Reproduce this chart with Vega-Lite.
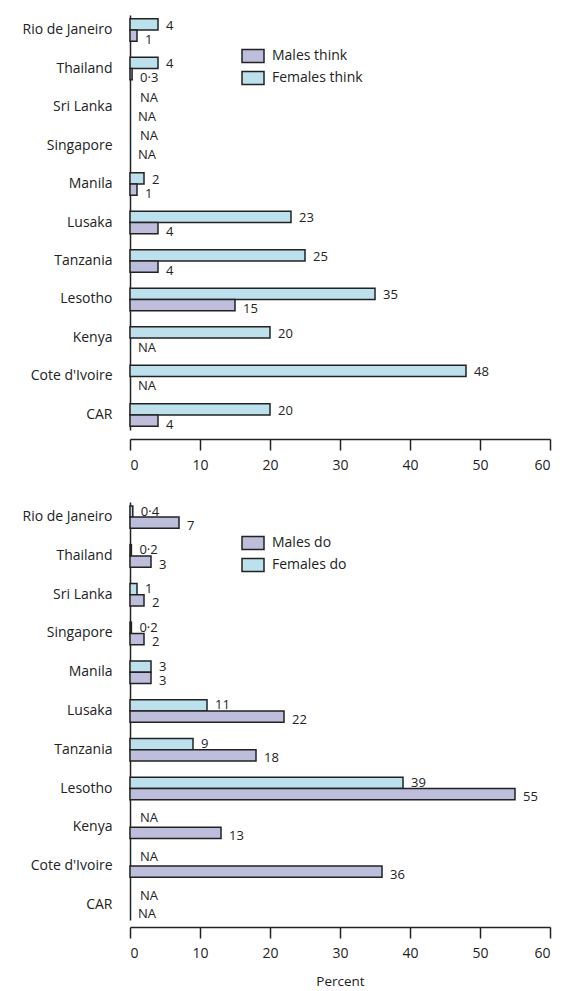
{
  "$schema": "https://vega.github.io/schema/vega-lite/v6.json",
  "padding": {"left": 20, "top": 15, "right": 5, "bottom": 0},
  "background": "white",
  "config": {
    "font": "Open Sans",
    "view": {"stroke": null},
    "axis": {
      "labelFont": "Open Sans", "labelFontSize": 14, "labelColor": "#222",
      "domainColor": "#222", "tickColor": "#222", "domainWidth": 1.5, "tickWidth": 1.5,
      "grid": false, "titleFont": "Open Sans", "titleFontWeight": "normal", "titleFontSize": 13.5, "titleColor": "#222"
    },
    "legend": {
      "labelFont": "Open Sans", "labelFontSize": 14, "labelColor": "#222",
      "symbolType": "M-1,-0.6H1V0.6H-1Z", "symbolSize": 484,
      "symbolStrokeColor": "#222", "symbolStrokeWidth": 1.5, "symbolOpacity": 1,
      "labelOffset": 7, "rowPadding": -6, "padding": 0
    },
    "text": {"font": "Open Sans", "fontSize": 13, "color": "#222"}
  },
  "datasets": {
    "think": [
      {"country": "Rio de Janeiro", "sex": "Females think", "value": 4, "label": "4"},
      {"country": "Rio de Janeiro", "sex": "Males think", "value": 1, "label": "1"},
      {"country": "Thailand", "sex": "Females think", "value": 4, "label": "4"},
      {"country": "Thailand", "sex": "Males think", "value": 0.3, "label": "0·3"},
      {"country": "Sri Lanka", "sex": "Females think", "value": null, "label": "NA"},
      {"country": "Sri Lanka", "sex": "Males think", "value": null, "label": "NA"},
      {"country": "Singapore", "sex": "Females think", "value": null, "label": "NA"},
      {"country": "Singapore", "sex": "Males think", "value": null, "label": "NA"},
      {"country": "Manila", "sex": "Females think", "value": 2, "label": "2"},
      {"country": "Manila", "sex": "Males think", "value": 1, "label": "1"},
      {"country": "Lusaka", "sex": "Females think", "value": 23, "label": "23"},
      {"country": "Lusaka", "sex": "Males think", "value": 4, "label": "4"},
      {"country": "Tanzania", "sex": "Females think", "value": 25, "label": "25"},
      {"country": "Tanzania", "sex": "Males think", "value": 4, "label": "4"},
      {"country": "Lesotho", "sex": "Females think", "value": 35, "label": "35"},
      {"country": "Lesotho", "sex": "Males think", "value": 15, "label": "15"},
      {"country": "Kenya", "sex": "Females think", "value": 20, "label": "20"},
      {"country": "Kenya", "sex": "Males think", "value": null, "label": "NA"},
      {"country": "Cote d'Ivoire", "sex": "Females think", "value": 48, "label": "48"},
      {"country": "Cote d'Ivoire", "sex": "Males think", "value": null, "label": "NA"},
      {"country": "CAR", "sex": "Females think", "value": 20, "label": "20"},
      {"country": "CAR", "sex": "Males think", "value": 4, "label": "4"}
    ],
    "do": [
      {"country": "Rio de Janeiro", "sex": "Females do", "value": 0.4, "label": "0·4"},
      {"country": "Rio de Janeiro", "sex": "Males do", "value": 7, "label": "7"},
      {"country": "Thailand", "sex": "Females do", "value": 0.2, "label": "0·2"},
      {"country": "Thailand", "sex": "Males do", "value": 3, "label": "3"},
      {"country": "Sri Lanka", "sex": "Females do", "value": 1, "label": "1"},
      {"country": "Sri Lanka", "sex": "Males do", "value": 2, "label": "2"},
      {"country": "Singapore", "sex": "Females do", "value": 0.2, "label": "0·2"},
      {"country": "Singapore", "sex": "Males do", "value": 2, "label": "2"},
      {"country": "Manila", "sex": "Females do", "value": 3, "label": "3"},
      {"country": "Manila", "sex": "Males do", "value": 3, "label": "3"},
      {"country": "Lusaka", "sex": "Females do", "value": 11, "label": "11"},
      {"country": "Lusaka", "sex": "Males do", "value": 22, "label": "22"},
      {"country": "Tanzania", "sex": "Females do", "value": 9, "label": "9"},
      {"country": "Tanzania", "sex": "Males do", "value": 18, "label": "18"},
      {"country": "Lesotho", "sex": "Females do", "value": 39, "label": "39"},
      {"country": "Lesotho", "sex": "Males do", "value": 55, "label": "55"},
      {"country": "Kenya", "sex": "Females do", "value": null, "label": "NA"},
      {"country": "Kenya", "sex": "Males do", "value": 13, "label": "13"},
      {"country": "Cote d'Ivoire", "sex": "Females do", "value": null, "label": "NA"},
      {"country": "Cote d'Ivoire", "sex": "Males do", "value": 36, "label": "36"},
      {"country": "CAR", "sex": "Females do", "value": null, "label": "NA"},
      {"country": "CAR", "sex": "Males do", "value": null, "label": "NA"}
    ]
  },
  "spacing": 30,
  "resolve": {"scale": {"color": "independent", "yOffset": "independent"}, "legend": {"color": "independent"}},
  "vconcat": [
    {
      "width": 420,
      "height": 415,
      "data": {"name": "think"},
      "encoding": {
        "y": {
          "field": "country", "type": "nominal",
          "sort": ["Rio de Janeiro", "Thailand", "Sri Lanka", "Singapore", "Manila", "Lusaka", "Tanzania", "Lesotho", "Kenya", "Cote d'Ivoire", "CAR"],
          "scale": {"paddingInner": 0.42, "paddingOuter": 0.1},
          "axis": {"title": null, "ticks": false, "labelPadding": 18, "minExtent": 110, "maxExtent": 110, "labelLimit": 200}
        },
        "yOffset": {"field": "sex", "type": "nominal", "sort": ["Females think", "Males think"], "scale": {"paddingInner": 0, "paddingOuter": 0}}
      },
      "layer": [
        {
          "mark": {"type": "bar", "stroke": "#222", "strokeWidth": 1.5, "orient": "horizontal"},
          "encoding": {
            "x": {"field": "value", "type": "quantitative", "scale": {"domain": [0, 60], "nice": false},
                  "axis": {"values": [0, 10, 20, 30, 40, 50, 60], "tickSize": 11, "labelPadding": 8, "offset": 9, "title": null}},
            "color": {"field": "sex", "type": "nominal",
                      "scale": {"domain": ["Males think", "Females think"], "range": ["#bdbddc", "#bde0ed"]},
                      "legend": {"orient": "none", "legendX": 111, "legendY": 29, "title": null}}
          }
        },
        {
          "transform": [{"filter": "datum.sex == 'Females think' && datum.value != null"}],
          "mark": {"type": "text", "align": "left", "baseline": "middle", "dx": 8, "dy": 1.5},
          "encoding": {"x": {"field": "value", "type": "quantitative"}, "text": {"field": "label"}}
        },
        {
          "transform": [{"filter": "datum.sex == 'Females think' && datum.value == null"}],
          "mark": {"type": "text", "align": "left", "baseline": "middle", "dx": 10, "dy": -3.5, "invalid": "show"},
          "encoding": {"x": {"field": "value", "type": "quantitative"}, "text": {"field": "label"}}
        },
        {
          "transform": [{"filter": "datum.sex == 'Males think'"}],
          "mark": {"type": "text", "align": "left", "baseline": "middle", "dx": 8, "dy": 4, "invalid": "show"},
          "encoding": {"x": {"field": "value", "type": "quantitative"}, "text": {"field": "label"}}
        }
      ]
    },
    {
      "width": 420,
      "height": 418,
      "data": {"name": "do"},
      "encoding": {
        "y": {
          "field": "country", "type": "nominal",
          "sort": ["Rio de Janeiro", "Thailand", "Sri Lanka", "Singapore", "Manila", "Lusaka", "Tanzania", "Lesotho", "Kenya", "Cote d'Ivoire", "CAR"],
          "scale": {"paddingInner": 0.42, "paddingOuter": 0.1},
          "axis": {"title": null, "ticks": false, "labelPadding": 18, "minExtent": 110, "maxExtent": 110, "labelLimit": 200}
        },
        "yOffset": {"field": "sex", "type": "nominal", "sort": ["Females do", "Males do"], "scale": {"paddingInner": 0, "paddingOuter": 0}}
      },
      "layer": [
        {
          "mark": {"type": "bar", "stroke": "#222", "strokeWidth": 1.5, "orient": "horizontal"},
          "encoding": {
            "x": {"field": "value", "type": "quantitative", "scale": {"domain": [0, 60], "nice": false},
                  "axis": {"values": [0, 10, 20, 30, 40, 50, 60], "tickSize": 11, "labelPadding": 8, "offset": 7, "title": "Percent", "titlePadding": 14}},
            "color": {"field": "sex", "type": "nominal",
                      "scale": {"domain": ["Males do", "Females do"], "range": ["#bdbddc", "#bde0ed"]},
                      "legend": {"orient": "none", "legendX": 111, "legendY": 29, "title": null}}
          }
        },
        {
          "transform": [{"filter": "datum.sex == 'Females do' && datum.value != null"}],
          "mark": {"type": "text", "align": "left", "baseline": "middle", "dx": 8, "dy": 0},
          "encoding": {"x": {"field": "value", "type": "quantitative"}, "text": {"field": "label"}}
        },
        {
          "transform": [{"filter": "datum.sex == 'Females do' && datum.value == null"}],
          "mark": {"type": "text", "align": "left", "baseline": "middle", "dx": 10, "dy": -3.5, "invalid": "show"},
          "encoding": {"x": {"field": "value", "type": "quantitative"}, "text": {"field": "label"}}
        },
        {
          "transform": [{"filter": "datum.sex == 'Males do'"}],
          "mark": {"type": "text", "align": "left", "baseline": "middle", "dx": 8, "dy": 3, "invalid": "show"},
          "encoding": {"x": {"field": "value", "type": "quantitative"}, "text": {"field": "label"}}
        }
      ]
    }
  ]
}
